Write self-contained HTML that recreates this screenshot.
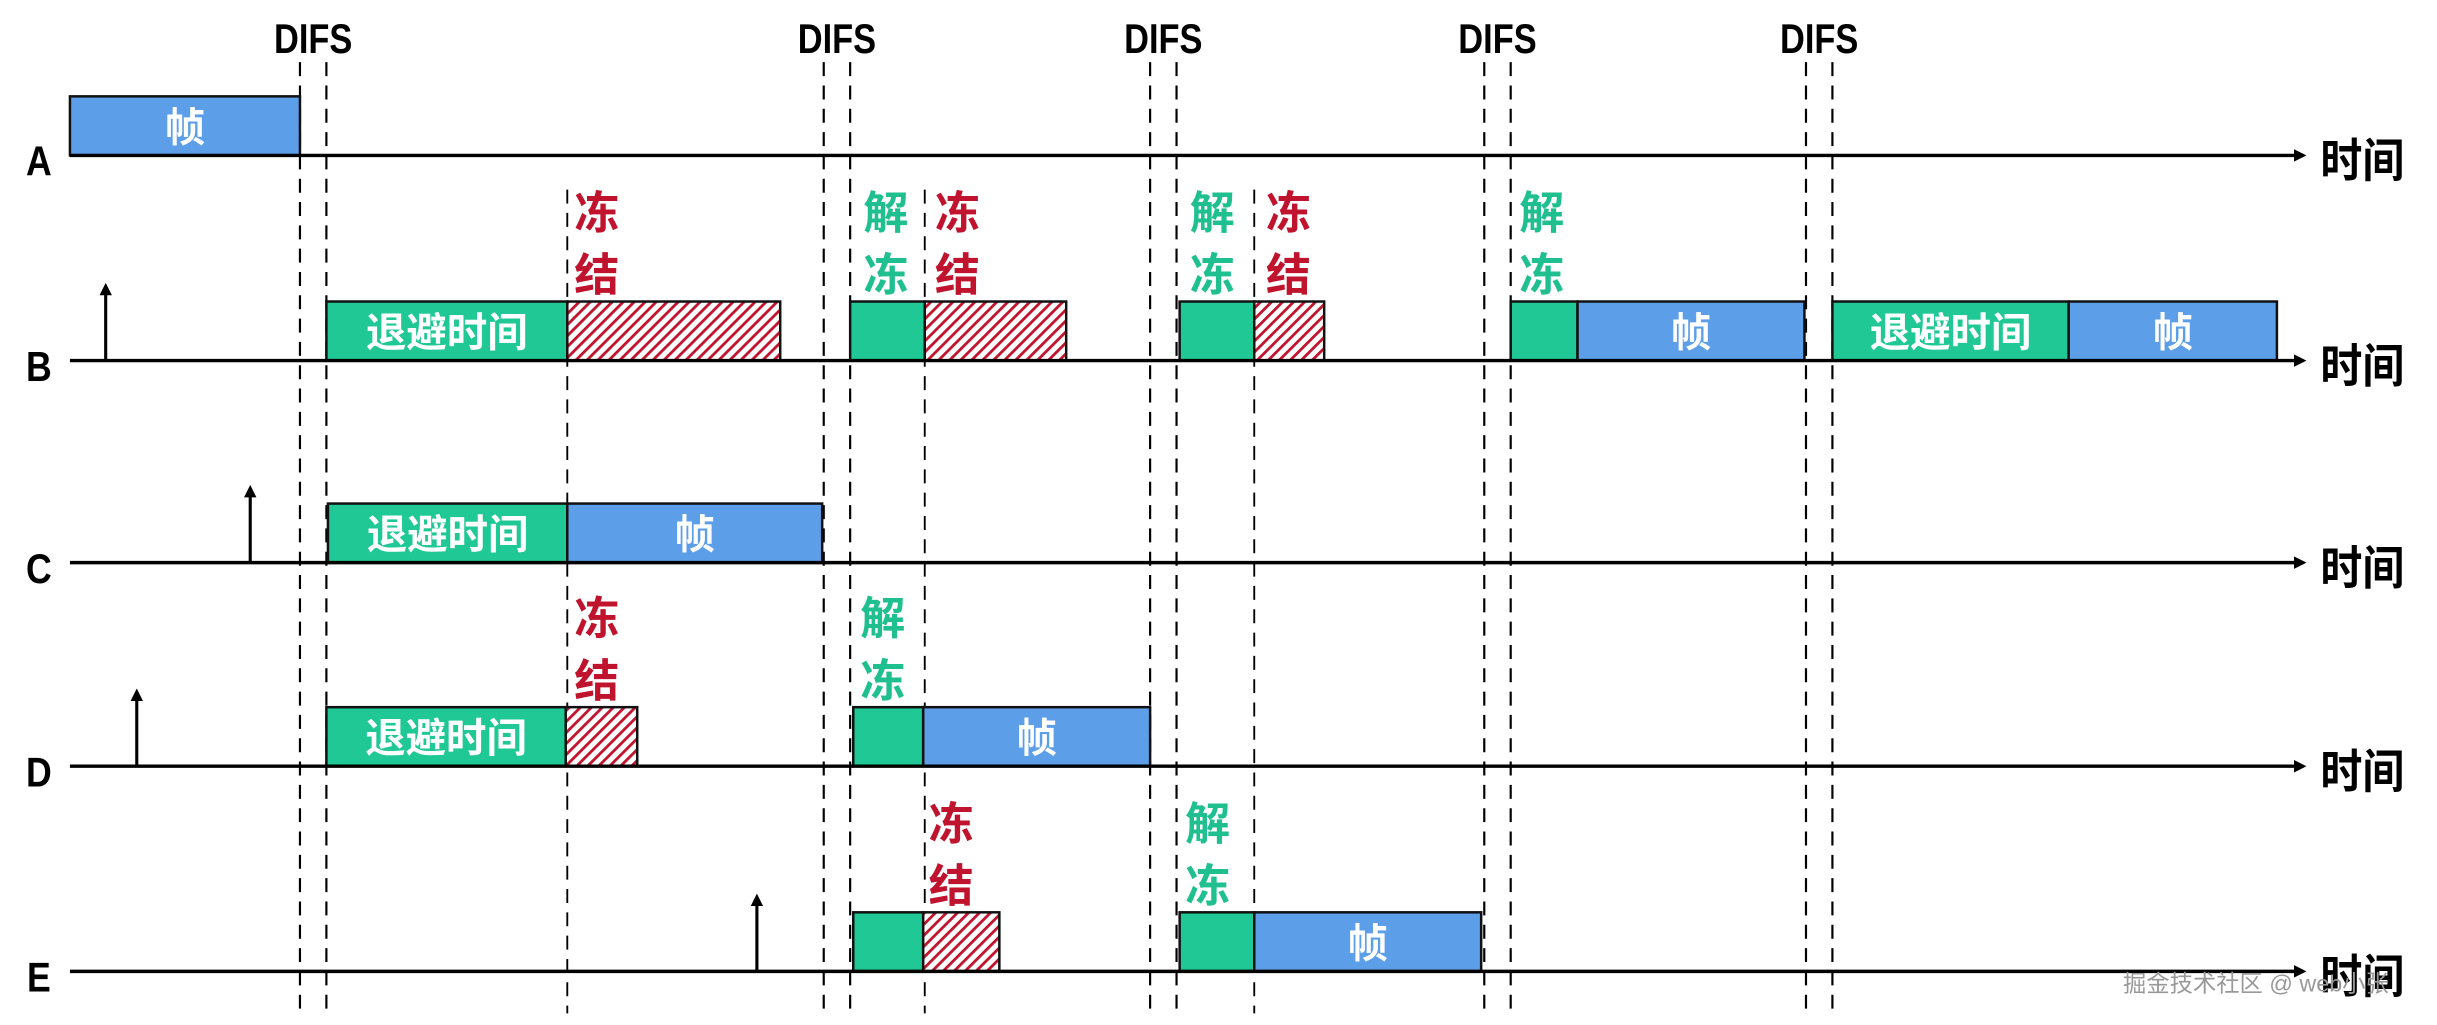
<!DOCTYPE html>
<html><head><meta charset="utf-8"><style>
html,body{margin:0;padding:0;background:#fff;}
svg{display:block;}
text{font-family:"Liberation Sans","Noto Sans CJK SC",sans-serif;font-weight:bold;}
</style></head><body>
<svg id="c" width="2437" height="1025" viewBox="0 0 1568 659.5" preserveAspectRatio="none" xmlns="http://www.w3.org/2000/svg">
<defs>
<pattern id="hatch" patternUnits="userSpaceOnUse" width="5" height="5" patternTransform="rotate(45)">
<rect width="5" height="5" fill="#fff"/><rect width="1.8" height="5" fill="#c0142e"/>
</pattern>
<marker id="arr" markerWidth="8" markerHeight="8" refX="6" refY="4" orient="auto" markerUnits="userSpaceOnUse"><path d="M0,0 L8,4 L0,8 Z" fill="#000"/></marker>
</defs>
<g id="g"></g>
<text x="1366" y="638" font-size="15" fill="#999" style="font-weight:normal">掘金技术社区 @ web小张</text>
</svg>
<script>
const rows = ['A','B','C','D','E'];
const rowY = [100,232,362,493,625];
const difsPairs = [[193,210],[530,547],[740,757],[955,972],[1162,1179]];
const singleDash = [365,595,807];
const segments = [
 [0,45,193,'f'],
 [1,210,365,'b'],[1,365,502,'z'],[1,547,595,'g'],[1,595,686,'z'],[1,759,807,'g'],[1,807,852,'z'],[1,972,1015,'g'],[1,1015,1161,'f'],[1,1179,1331,'b'],[1,1331,1465,'f'],
 [2,211,365,'b'],[2,365,529,'f'],
 [3,210,364,'b'],[3,364,410,'z'],[3,549,594,'g'],[3,594,740,'f'],
 [4,549,594,'g'],[4,594,643,'z'],[4,759,807,'g'],[4,807,953,'f']
];
const arrivals = [[1,68],[2,161],[3,88],[4,487]];
const notes = [[1,384,'z'],[1,570,'u'],[1,616,'z'],[1,780,'u'],[1,829,'z'],[1,992,'u'],[3,384,'z'],[3,568,'u'],[4,612,'z'],[4,777,'u']];
const BAR_H = 38;
const NS='http://www.w3.org/2000/svg';
const g=document.getElementById('g');
function mk(tag,attrs,txt){const e=document.createElementNS(NS,tag);for(const k in attrs)e.setAttribute(k,attrs[k]);if(txt!==undefined)e.textContent=txt;g.appendChild(e);return e;}
const colors={f:'#5d9ee8',b:'#1fc894',g:'#1fc894',z:'url(#hatch)'};
difsPairs.forEach(p=>{
  p.forEach(x=>{const l=mk('line',{x1:x,x2:x,y1:40,y2:652,stroke:'#000','stroke-width':1.4,'stroke-dasharray':'9,6'});
  
  });
  const cx=(p[0]+p[1])/2;
  const t=mk('text',{x:0,y:0,'font-size':27,'text-anchor':'middle',transform:'translate('+cx+',34) scale(0.82,1)'},'DIFS');
  
  
});
singleDash.forEach(x=>{const l=mk('line',{x1:x,x2:x,y1:122,y2:652,stroke:'#000','stroke-width':1.2,'stroke-dasharray':'9,6'});
  
  });
segments.forEach(s=>{
  const y=rowY[s[0]]-BAR_H;
  const r=mk('rect',{x:s[1],y:y,width:s[2]-s[1],height:BAR_H,fill:colors[s[3]],stroke:'#111','stroke-width':1.6});
  
  
  let label=s[3]==='f'?'帧':s[3]==='b'?'退避时间':null;
  if(label){const t=mk('text',{x:(s[1]+s[2])/2,y:y+BAR_H/2+10,'font-size':26,fill:'#fff','text-anchor':'middle'},label);
    
    }
});
rows.forEach((r,i)=>{
  const l=mk('line',{x1:45,x2:1482,y1:rowY[i],y2:rowY[i],stroke:'#000','stroke-width':2.2,'marker-end':'url(#arr)'});
  
  
  const t=mk('text',{x:0,y:0,'font-size':27,'text-anchor':'middle',transform:'translate(25,'+(rowY[i]+13)+') scale(0.85,1)'},r);
  
  
  const tt=mk('text',{x:0,y:0,'font-size':30,transform:'translate(1493,'+(rowY[i]+14)+') scale(0.9,1)'},'时间');
  
  
});
arrivals.forEach(a=>{
  const y=rowY[a[0]];
  const l=mk('line',{x1:a[1],x2:a[1],y1:y,y2:y-48,stroke:'#000','stroke-width':2,'marker-end':'url(#arr)'});
  
  
});
notes.forEach(n=>{
  const y=rowY[n[0]]-BAR_H;
  const chars=n[2]==='z'?['冻','结']:['解','冻'];
  const col=n[2]==='z'?'#c0142e':'#1fbf8f';
  chars.forEach((c,k)=>{
    const t=mk('text',{x:n[1],y:y-47+k*40,'font-size':29,fill:col,'text-anchor':'middle'},c);
    
    
  });
});
</script>
</body></html>
